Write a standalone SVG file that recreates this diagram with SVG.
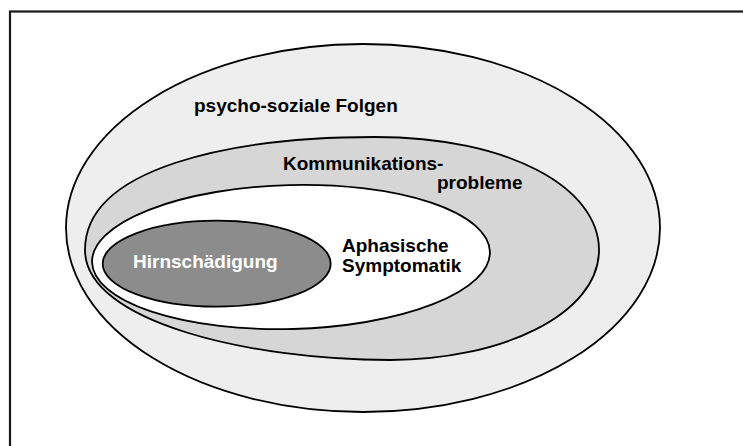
<svg xmlns="http://www.w3.org/2000/svg" width="743" height="446" viewBox="0 0 743 446">
<style>
.ln{stroke:#000;stroke-width:1.8}
.t{font-family:"Liberation Sans",Arial,sans-serif;font-weight:bold;font-size:19px;fill:#000}
</style>
<rect x="0" y="0" width="743" height="446" fill="#fff"/>
<rect x="10" y="11.5" width="760" height="460" fill="none" stroke="#1a1a1a" stroke-width="2.2"/>
<g id="psychosozial">
<ellipse class="ln" cx="363" cy="228" rx="297" ry="184" fill="#eeeeee"/>
<text class="t" x="194" y="112">psycho-soziale Folgen</text>
</g>
<g id="kommunikation">
<path class="ln" fill="#d6d6d6" d="M85,250 C85,168 230,137 375,137 C510,137 599,188 599,250 C599,315 500,360 390,360 C250,360 85,322 85,250 Z"/>
<text class="t" x="283" y="170">Kommunikations-</text>
<text class="t" x="437" y="189">probleme</text>
</g>
<g id="aphasie">
<ellipse class="ln" cx="291" cy="257" rx="199" ry="72" fill="#ffffff" transform="rotate(-1.5 291 257)"/>
<text class="t" x="342" y="252">Aphasische</text>
<text class="t" x="342" y="272">Symptomatik</text>
</g>
<g id="hirn">
<ellipse class="ln" cx="216.7" cy="263.7" rx="114" ry="43" fill="#8c8c8c"/>
<text class="t" x="133" y="268" style="fill:#fff">Hirnschädigung</text>
</g>
<g id="connectors"></g>
</svg>
